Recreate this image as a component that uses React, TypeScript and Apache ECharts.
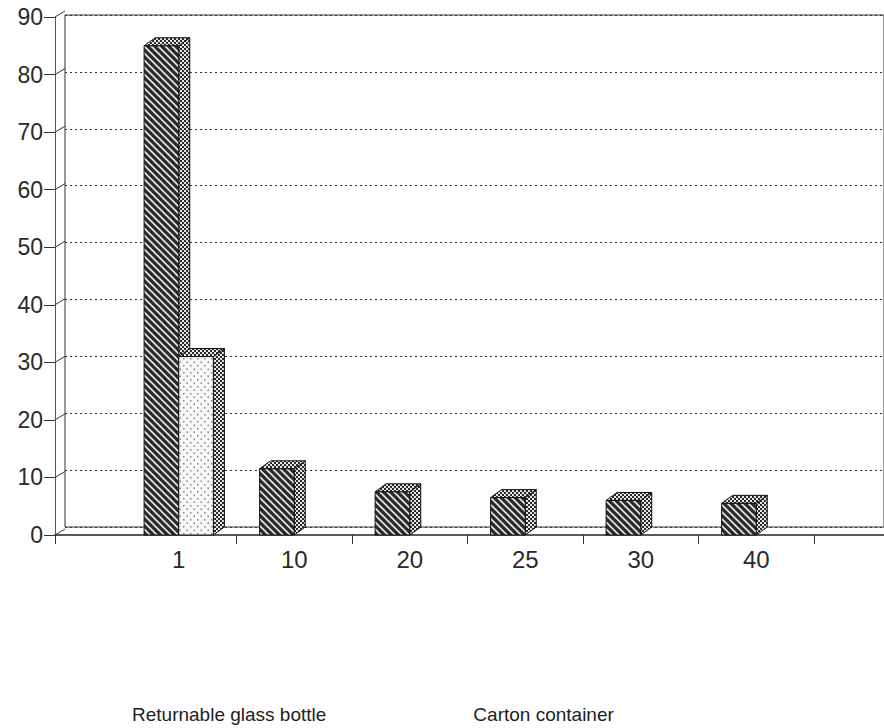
import React, { useEffect, useRef } from "react";
import * as echarts from "echarts";

const categories = ["1", "10", "20", "25", "30", "40"];
const glassValues = [85, 11.5, 7.5, 6.5, 6, 5.5];
const cartonValues = [31, 0, 0, 0, 0, 0];
const seriesNames = ["Returnable glass bottle", "Carton container"];
const yTickValues = [0, 10, 20, 30, 40, 50, 60, 70, 80, 90];
const yMin = 0;
const yMax = 90;
const yStep = 10;

function makeTile(w: number, h: number, draw: (ctx: CanvasRenderingContext2D) => void) {
  const c = document.createElement("canvas");
  c.width = w;
  c.height = h;
  const ctx = c.getContext("2d") as CanvasRenderingContext2D;
  draw(ctx);
  return { image: c, repeat: "repeat", imageWidth: w, imageHeight: h };
}

export default function App() {
  const ref = useRef<HTMLDivElement>(null);
  useEffect(() => {
    if (!ref.current) return;
    const chart = echarts.init(ref.current, null, { renderer: "svg" });

    const hatch = makeTile(7, 7, (ctx) => {
      ctx.fillStyle = "#2b2b2b";
      ctx.fillRect(0, 0, 7, 7);
      ctx.strokeStyle = "#e8e8e8";
      ctx.lineWidth = 1.6;
      ctx.beginPath();
      ctx.moveTo(-1, -1);
      ctx.lineTo(8, 8);
      ctx.moveTo(-1, 6);
      ctx.lineTo(1, 8);
      ctx.moveTo(6, -1);
      ctx.lineTo(8, 1);
      ctx.stroke();
    });
    const check = makeTile(4, 4, (ctx) => {
      ctx.fillStyle = "#e6e6e6";
      ctx.fillRect(0, 0, 4, 4);
      ctx.fillStyle = "#2a2a2a";
      ctx.fillRect(0, 0, 2, 2);
      ctx.fillRect(2, 2, 2, 2);
    });
    const dots = makeTile(7, 7, (ctx) => {
      ctx.fillStyle = "#f7f7f7";
      ctx.fillRect(0, 0, 7, 7);
      ctx.fillStyle = "#888";
      ctx.fillRect(1, 1, 1.5, 1.5);
      ctx.fillRect(4.5, 4.5, 1.5, 1.5);
    });

    const make3D = (side: "left" | "right", frontFill: any) => (params: any, api: any) => {
      const idx = api.value(0);
      const v = api.value(1);
      if (!v) return { type: "group", children: [] };
      const top = api.coord([idx, v]);
      const base = api.coord([idx, 0]);
      const bw = api.size([1, 0])[0] * 0.3;
      const dx = 11;
      const dy = -8;
      const x0 = side === "left" ? top[0] - bw : top[0];
      const x1 = x0 + bw;
      const yT = top[1];
      const yB = base[1];
      const stroke = { stroke: "#111", lineWidth: 1 };
      return {
        type: "group",
        children: [
          {
            type: "polygon",
            shape: { points: [[x1, yT], [x1 + dx, yT + dy], [x1 + dx, yB + dy], [x1, yB]] },
            style: { fill: check, ...stroke },
          },
          {
            type: "polygon",
            shape: { points: [[x0, yT], [x0 + dx, yT + dy], [x1 + dx, yT + dy], [x1, yT]] },
            style: { fill: check, ...stroke },
          },
          {
            type: "polygon",
            shape: { points: [[x0, yT], [x1, yT], [x1, yB], [x0, yB]] },
            style: { fill: frontFill, ...stroke },
          },
        ],
      };
    };

    // small diagonal connectors on the side wall from front axis to back wall
    const wallTicks = (params: any, api: any) => {
      const v = api.value(1);
      const p = api.coord([0, v]);
      const xFront = params.coordSys.x - 66;
      return {
        type: "line",
        shape: { x1: xFront, y1: p[1], x2: xFront + 10, y2: p[1] - 6 },
        style: { stroke: "#333", lineWidth: 1 },
      };
    };

    const labelFont = { fontFamily: "Liberation Sans, Arial, sans-serif", color: "#2a2a2a" };

    chart.setOption({
      animation: false,
      backgroundColor: "#fff",
      legend: {
        data: seriesNames,
        left: 122,
        top: 700,
        itemWidth: 0,
        itemHeight: 0,
        itemGap: 142,
        textStyle: { ...labelFont, fontSize: 19, color: "#222" },
        selectedMode: false,
      },
      grid: [
        { left: 65, right: 0, top: 15, bottom: 201, show: true, borderColor: "#333", borderWidth: 1, backgroundColor: "transparent" },
        { left: 121, right: 70, top: 17, bottom: 193 },
        { left: 55, right: 0, top: 534, height: 1 },
      ],
      xAxis: [
        { gridIndex: 0, type: "value", show: false, min: 0, max: 1 },
        {
          gridIndex: 1,
          type: "category",
          data: categories,
          boundaryGap: true,
          axisLine: { show: false },
          axisTick: {
            show: true,
            length: 9,
            interval: (i: number) => i > 0,
            lineStyle: { color: "#333" },
          },
          axisLabel: { ...labelFont, fontSize: 24, margin: 12 },
        },
        {
          gridIndex: 2,
          type: "value",
          min: 0,
          max: 1,
          interval: 1,
          axisLine: { show: true, lineStyle: { color: "#222", width: 1.5 } },
          axisTick: { show: true, length: 9, lineStyle: { color: "#333" } },
          axisLabel: { show: false },
          splitLine: { show: false },
        },
      ],
      yAxis: [
        {
          gridIndex: 0,
          type: "value",
          min: yMin,
          max: yMax,
          interval: yStep,
          axisLine: { show: false },
          axisTick: { show: false },
          axisLabel: { show: false },
          splitLine: { show: true, lineStyle: { color: "#333", type: [2, 3], width: 1.2 } },
        },
        {
          gridIndex: 1,
          type: "value",
          min: yMin,
          max: yMax,
          interval: yStep,
          offset: 66,
          axisLine: { show: true, lineStyle: { color: "#555", width: 1 } },
          axisTick: { show: true, length: 11, lineStyle: { color: "#333" } },
          axisLabel: { ...labelFont, fontSize: 23, margin: 12 },
          splitLine: { show: false },
        },
        { gridIndex: 2, type: "value", show: false },
      ],
      series: [
        {
          name: "wall",
          type: "custom",
          xAxisIndex: 1,
          yAxisIndex: 1,
          clip: false,
          data: yTickValues.map((v) => [0, v]),
          renderItem: wallTicks,
          silent: true,
        },
        {
          name: seriesNames[0],
          type: "custom",
          xAxisIndex: 1,
          yAxisIndex: 1,
          itemStyle: { color: "#333" },
          data: glassValues.map((v, i) => [i, v]),
          renderItem: make3D("left", hatch),
        },
        {
          name: seriesNames[1],
          type: "custom",
          xAxisIndex: 1,
          yAxisIndex: 1,
          itemStyle: { color: "#ccc" },
          data: cartonValues.map((v, i) => [i, v]),
          renderItem: make3D("right", dots),
        },
      ],
    });
    return () => chart.dispose();
  }, []);
  return (
    <div
      ref={ref}
      style={{ position: "fixed", left: 0, top: 0, width: 884, height: 728, background: "#fff" }}
    />
  );
}
